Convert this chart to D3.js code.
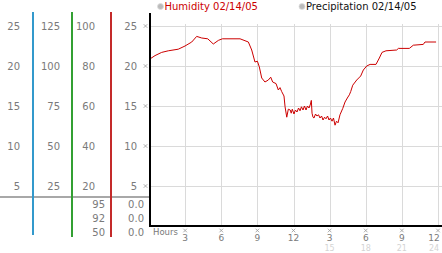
<!DOCTYPE html>
<html>
<head>
<meta charset="utf-8">
<script src="https://cdn.jsdelivr.net/npm/d3@7"></script>
<style>
  body { margin: 0; background: #fff; }
  svg { display: block; font-family: "DejaVu Sans", sans-serif; }
</style>
</head>
<body>
<svg width="442" height="253"></svg>
<script>
// 시간(0~24h)과 습도 값
const hours = [0, 0.5, 1.05, 1.6, 2.43, 2.99, 3.55, 3.96, 4.38, 4.88, 5.34, 5.76, 6.09, 7.56, 8.25, 8.53, 8.8, 9.0, 9.16, 9.36,
  9.63, 9.91, 10.11, 10.27, 10.55, 10.74, 10.88, 11.02, 11.21, 11.3, 11.44, 11.57, 11.73, 11.81, 11.9, 12.04, 12.16, 12.29, 12.42, 12.54,
  12.66, 12.79, 12.91, 13.04, 13.16, 13.29, 13.41, 13.48, 13.54, 13.62, 13.7, 13.83, 13.95, 14.08, 14.2, 14.33, 14.45, 14.58, 14.7, 14.83,
  14.95, 15.07, 15.2, 15.32, 15.45, 15.57, 15.7, 15.86, 16.09, 16.28, 16.47, 16.64, 16.75, 16.92, 17.25, 17.58, 17.8, 18.08, 18.36, 18.85,
  19.13, 19.35, 19.68, 20.57, 20.71, 21.62, 21.95, 22.78, 22.92, 23.84];
const humidity = [20.8, 21.3, 21.7, 21.9, 22.1, 22.5, 23.0, 23.7, 23.5, 23.4, 22.75, 23.2, 23.4, 23.4, 23.0, 22.0, 20.5, 20.6, 19.9, 18.5,
  18.0, 18.25, 18.6, 18.0, 17.8, 17.0, 17.3, 16.8, 16.25, 14.9, 13.6, 14.6, 14.5, 14.1, 14.6, 14.0, 14.5, 14.25, 14.75, 14.4,
  14.9, 14.5, 15.0, 14.5, 15.0, 14.75, 15.25, 15.7, 14.1, 13.6, 13.5, 14.0, 13.75, 13.9, 13.5, 13.75, 13.25, 13.6, 13.4, 13.75,
  13.25, 13.5, 13.1, 13.5, 12.6, 13.1, 12.9, 13.9, 14.7, 15.5, 16.0, 16.4, 16.8, 17.6, 18.25, 18.75, 19.5, 20.0, 20.2, 20.2,
  21.0, 21.7, 21.9, 22.0, 22.2, 22.2, 22.6, 22.7, 23.0, 23.0];

// 축 눈금
const yTicks = [25, 20, 15, 10, 5];
const colA = [25, 20, 15, 10, 5];
const colB = [125, 100, 75, 50, 25];
const colC = [100, 80, 60, 40, 20];
const colD = [25, 20, 15, 10, 5];
const lowC = ["95", "92", "50"];
const lowD = ["0.0", "0.0", "0.0"];
const xTicks = [3, 6, 9, 12, 15, 18, 21, 24];
const xLabels = ["3", "6", "9", "12", "3", "6", "9", "12"];
const xLabels24 = ["", "", "", "", "15", "18", "21", "24"];
const legendNames = ["Humidity 02/14/05", "Precipitation 02/14/05"];

const svg = d3.select("svg");
const width = 442;
const x = d3.scaleLinear().domain([0, 24]).range([149, 438]);
const y = d3.scaleLinear().domain([0, 25]).range([226, 26]);
const lowRow = d3.scalePoint().domain(d3.range(3)).range([204.5, 232.5]);

// 마지막 눈금 라벨은 오른쪽 끝을 넘지 않도록
const tickX = (i) => Math.min(x(xTicks[i]), width - 8);

// 그리드
svg.append("g").selectAll("line").data(yTicks).join("line")
  .attr("x1", 149).attr("x2", width)
  .attr("y1", (d) => Math.round(y(d)) + 0.5).attr("y2", (d) => Math.round(y(d)) + 0.5)
  .attr("stroke", "#dadada");
svg.append("g").selectAll("line").data(xTicks).join("line")
  .attr("x1", (d) => Math.round(x(d)) + 0.5).attr("x2", (d) => Math.round(x(d)) + 0.5)
  .attr("y1", 24).attr("y2", 226)
  .attr("stroke", "#dadada");

// 왼쪽 색상 세로선 + 회색 가로선
svg.append("rect").attr("x", 0).attr("y", 196).attr("width", 149).attr("height", 2).attr("fill", "#a8a8a8");
[[32, "#3399cc", 235], [71, "#33a033", 237], [110, "#c42a2a", 237]].forEach(([lx, c, y2]) => {
  svg.append("rect").attr("x", lx).attr("y", 12).attr("width", 2).attr("height", y2 - 12).attr("fill", c);
});

// 왼쪽 눈금 라벨 열
const labelCols = [[colA, 20], [colB, 60], [colC, 95], [colD, 137]];
labelCols.forEach(([vals, ax]) => {
  svg.append("g").selectAll("text").data(vals).join("text")
    .attr("x", ax).attr("y", (d, i) => y(yTicks[i]))
    .attr("dy", "0.36em").attr("text-anchor", "end")
    .style("font-size", "10px").style("fill", "#7a7a7a")
    .text((d) => d);
});
[[lowC, 105], [lowD, 144]].forEach(([vals, ax]) => {
  svg.append("g").selectAll("text").data(vals).join("text")
    .attr("x", ax).attr("y", (d, i) => lowRow(i))
    .attr("dy", "0.36em").attr("text-anchor", "end")
    .style("font-size", "10px").style("fill", "#7a7a7a")
    .text((d) => d);
});

// 작은 눈금 표시
const mark = d3.symbol(d3.symbolTimes, 10);
svg.append("g").selectAll("path").data(yTicks).join("path")
  .attr("d", mark).attr("transform", (d) => `translate(145.5, ${y(d)})`)
  .attr("fill", "none").attr("stroke", "#999").attr("stroke-width", 0.8);
svg.append("g").selectAll("path").data(xTicks).join("path")
  .attr("d", mark).attr("transform", (d) => `translate(${x(d)}, 230.5)`)
  .attr("fill", "none").attr("stroke", "#999").attr("stroke-width", 0.8);

// x축 라벨
svg.append("g").selectAll("text").data(xLabels).join("text")
  .attr("x", (d, i) => tickX(i)).attr("y", 241)
  .attr("text-anchor", "middle")
  .style("font-size", "9px").style("fill", "#7a7a7a")
  .text((d) => d);
svg.append("g").selectAll("text").data(xLabels24).join("text")
  .attr("x", (d, i) => tickX(i)).attr("y", 251)
  .attr("text-anchor", "middle")
  .style("font-size", "8px").style("fill", "#d4d4d4")
  .text((d) => d);
svg.append("text").attr("x", 153).attr("y", 235)
  .style("font-size", "8.5px").style("fill", "#7a7a7a").text("Hours");

// 습도 라인
const line = d3.line().x((d) => x(d[0])).y((d) => y(d[1]));
svg.append("path")
  .datum(d3.zip(hours, humidity))
  .attr("d", line)
  .attr("fill", "none").attr("stroke", "#cc0000").attr("stroke-width", 1);

// 검정 축선
svg.append("rect").attr("x", 149).attr("y", 13).attr("width", 2).attr("height", 214).attr("fill", "#000");
svg.append("rect").attr("x", 149).attr("y", 225).attr("width", width - 149).attr("height", 2).attr("fill", "#000");

// 범례
const legendX = [160.5, 302];
const legend = svg.append("g").selectAll("g").data(legendNames).join("g")
  .attr("transform", (d, i) => `translate(${legendX[i]}, 6.5)`);
legend.append("circle").attr("r", 3).attr("fill", "#bbb").attr("stroke", "#ddd").attr("stroke-width", 0.8);
legend.append("text").attr("x", 4).attr("y", 3.8)
  .style("font-size", "10px").style("fill", (d, i) => (i === 0 ? "#cc0000" : "#111"))
  .text((d) => d);
</script>
</body>
</html>
